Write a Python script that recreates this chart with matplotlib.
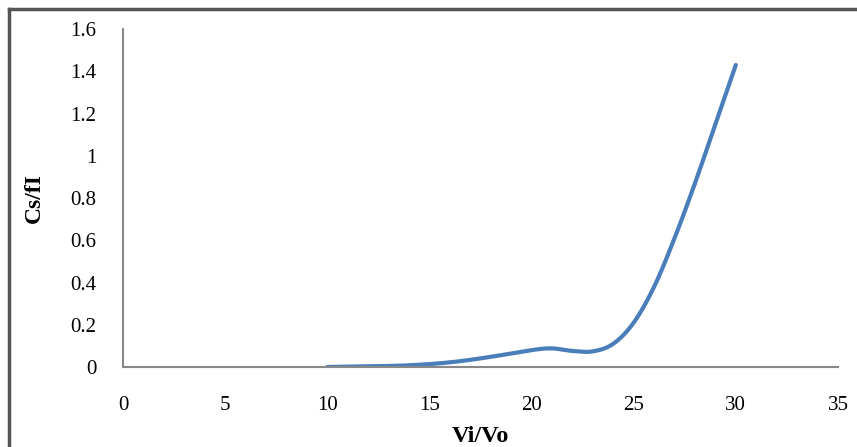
import numpy as np
import matplotlib
matplotlib.use("Agg")
import matplotlib.pyplot as plt
from matplotlib.lines import Line2D

# ratio values
vi_vo = [10, 12, 14, 16, 18, 20, 21, 22, 23, 24, 25, 26, 27, 28, 29, 30]
cs_fi = [0.0, 0.003, 0.008, 0.022, 0.048, 0.08, 0.088, 0.076, 0.074, 0.11,
         0.21, 0.38, 0.61, 0.87, 1.15, 1.43]

x_ticks = [0, 5, 10, 15, 20, 25, 30, 35]
y_ticks = [0, 0.2, 0.4, 0.6, 0.8, 1, 1.2, 1.4, 1.6]
y_labels = ['0', '0.2', '0.4', '0.6', '0.8', '1', '1.2', '1.4', '1.6']


def smooth(x, y, n=30):
    # catmull-rom through the points, like excel's smoothed line
    x = np.asarray(x, float)
    y = np.asarray(y, float)
    px = np.concatenate([[2 * x[0] - x[1]], x, [2 * x[-1] - x[-2]]])
    py = np.concatenate([[2 * y[0] - y[1]], y, [2 * y[-1] - y[-2]]])
    xs, ys = [], []
    t = np.linspace(0, 1, n)
    for i in range(1, len(px) - 2):
        for p, out in ((px, xs), (py, ys)):
            p0, p1, p2, p3 = p[i - 1], p[i], p[i + 1], p[i + 2]
            out.extend(0.5 * ((2 * p1) + (-p0 + p2) * t
                              + (2 * p0 - 5 * p1 + 4 * p2 - p3) * t ** 2
                              + (-p0 + 3 * p1 - 3 * p2 + p3) * t ** 3))
    return np.array(xs), np.array(ys)


plt.rcParams['font.family'] = ['Liberation Serif', 'DejaVu Serif']

fig = plt.figure(figsize=(8.57, 4.47), dpi=100)
ax = fig.add_axes([0.1435, 0.179, 0.8343, 0.756])

sx, sy = smooth(vi_vo, cs_fi)
ax.plot(sx, sy, color='#4a7ebb', lw=3, solid_capstyle='round')

ax.set_xlim(0, 35)
ax.set_ylim(0, 1.6)
ax.set_xticks(x_ticks)
ax.set_yticks(y_ticks)
ax.set_yticklabels(y_labels)
ax.tick_params(length=0, labelsize=15, colors='black')
ax.tick_params(axis='x', pad=21)
ax.tick_params(axis='y', pad=19)

for s in ['top', 'right']:
    ax.spines[s].set_visible(False)
for s in ['left', 'bottom']:
    ax.spines[s].set_color('#888888')
    ax.spines[s].set_linewidth(1.5)

ax.set_xlabel('Vi/Vo', fontsize=17.5, fontweight='bold')
ax.set_ylabel('Cs/fI', fontsize=17, fontweight='bold')
ax.xaxis.set_label_coords(0.5, -0.175)
ax.yaxis.set_label_coords(-0.109, 0.5)

# chart frame (only top and left edges are in the picture)
fig.add_artist(Line2D([0.011, 1], [0.98, 0.98], transform=fig.transFigure,
                      color='#555555', lw=2.5))
fig.add_artist(Line2D([0.011, 0.011], [0, 0.98], transform=fig.transFigure,
                      color='#555555', lw=2.5))

fig.savefig('out.png', dpi=100)
